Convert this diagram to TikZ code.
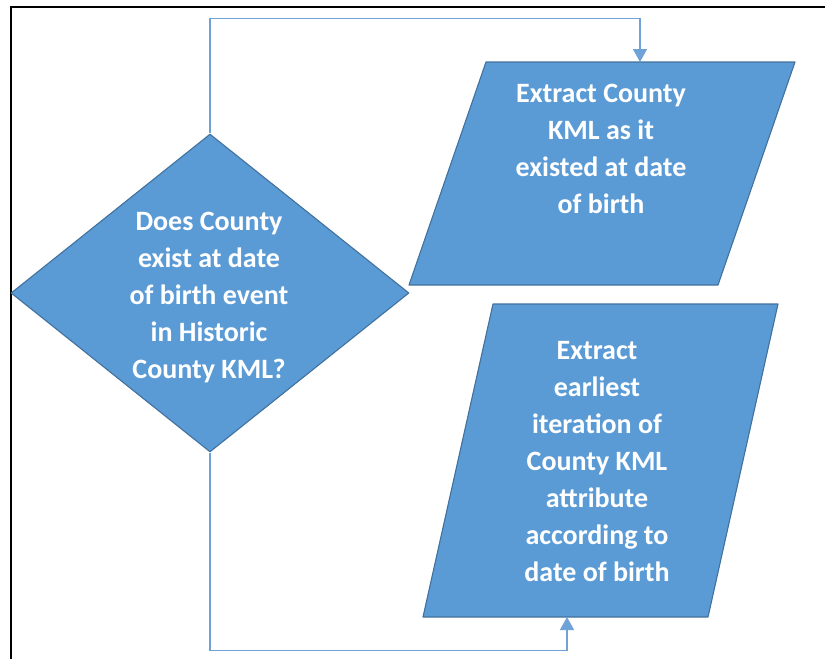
\documentclass[tikz,border=0pt]{standalone}
\usepackage{fontspec}
\setmainfont{Carlito}
\usepackage{tikz}
\usetikzlibrary{shapes.geometric,arrows.meta}
\definecolor{flowblue}{HTML}{5B9BD5}
\definecolor{flowedge}{HTML}{41719C}
\definecolor{flowlink}{HTML}{6FA3D8}

\tikzset{
  flowshape/.style={fill=flowblue, draw=flowedge, line width=1.1pt, line join=round},
  flowtext/.style={text=white, align=center, inner sep=0pt, font=\bfseries\fontsize{28}{37}\selectfont},
  flowlinkstyle/.style={draw=flowlink, line width=1.4pt, -{Triangle[length=13pt,width=14pt]}}
}

\begin{document}
\begin{tikzpicture}[x=1pt,y=-1pt]
\useasboundingbox (0,0) rectangle (825,659);
\draw[line width=1.5pt] (11,659) -- (11,7) -- (825,7);

\node[diamond, flowshape, minimum width=398pt, minimum height=318pt, inner sep=0pt] (query) at (210,293) {};
\node[flowtext] (querytext) at (209,298) {Does County\\exist at date\\of birth event\\in Historic\\County KML?};

\draw[flowshape] (486,62) -- (795,62) -- (718,285) -- (409,285) -- cycle;
\coordinate (extracttop) at (640,62);
\node[flowtext] (extracttext) at (601,149) {Extract County\\KML as it\\existed at date\\of birth};

\draw[flowshape] (493,304) -- (778,304) -- (708,617) -- (423,617) -- cycle;
\coordinate (earliestbottom) at (567,617);
\node[flowtext] (earliesttext) at (597,462) {Extract\\earliest\\iteration of\\County KML\\attribute\\according to\\date of birth};

\draw[flowlinkstyle] (query.north) -- ++(0,-115) -| (extracttop);
\draw[flowlinkstyle] (query.south) -- ++(0,198) -| (earliestbottom);
\end{tikzpicture}
\end{document}
